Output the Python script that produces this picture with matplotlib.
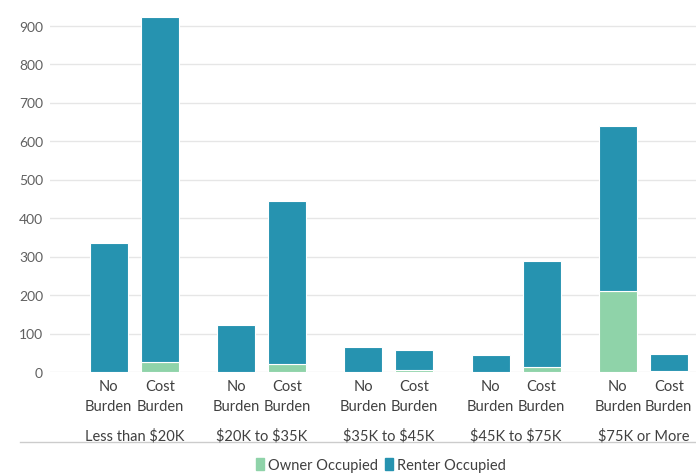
import matplotlib
matplotlib.use("Agg")
import matplotlib.pyplot as plt
from matplotlib.patches import Rectangle
import numpy as np

plt.rcParams['font.family'] = ['Lato', 'DejaVu Sans']
plt.rcParams['text.parse_math'] = False

categories = ["Less than $20K", "$20K to $35K", "$35K to $45K", "$45K to $75K", "$75K or More"]
sub_labels = ["No\nBurden", "Cost\nBurden"]
owner_no = [0, 0, 0, 0, 210]
renter_no = [335, 122, 65, 44, 429]
owner_cost = [26, 20, 5, 13, 3]
renter_cost = [896, 424, 52, 275, 44]
yticks = [0, 100, 200, 300, 400, 500, 600, 700, 800, 900]
series_names = ["Owner Occupied", "Renter Occupied"]

OWNER = "#8fd3a9"
RENTER = "#2693b0"
TXT = "#404040"
FS = 10.5

W, H = 696, 477
fig = plt.figure(figsize=(W / 100, H / 100), dpi=100)

# pixel geometry
left_px, right_px = 50, 696
zero_px = 373
px_per_unit = 0.385
top_val = 1000
top_px = zero_px - top_val * px_per_unit
group_px = 127.25
g0_px = 134.25

ax = fig.add_axes([left_px / W, 1 - zero_px / H, (right_px - left_px) / W, (zero_px - top_px) / H])
x0 = (left_px - g0_px) / group_px
x1 = (right_px - g0_px) / group_px
ax.set_xlim(x0, x1)
ax.set_ylim(0, top_val)

x = np.arange(len(categories))
off = 25.5 / group_px
bw = 38 / group_px

kw = dict(width=bw, edgecolor="white", linewidth=0.8, zorder=3)
ax.bar(x - off, owner_no, color=OWNER, **kw)
ax.bar(x - off, renter_no, bottom=owner_no, color=RENTER, **kw)
ax.bar(x + off, owner_cost, color=OWNER, **kw)
ax.bar(x + off, renter_cost, bottom=owner_cost, color=RENTER, **kw)

ax.set_yticks(yticks)
ax.set_yticklabels([str(v) for v in yticks], color="#606060", fontsize=10)
ax.tick_params(axis="y", length=0, pad=5)
ax.set_xticks([])
ax.grid(axis="y", color="#e6e6e6", linewidth=1, zorder=0)
for s in ax.spines.values():
    s.set_visible(False)

def fy(py):
    return 1 - py / H

def fx(dx):
    return (g0_px + dx * group_px) / W

for i, cat in enumerate(categories):
    for j, sl in enumerate(sub_labels):
        xi = i + (-off if j == 0 else off)
        fig.text(fx(xi), fy(397), sl, ha="center", va="center", fontsize=FS,
                 color=TXT, linespacing=1.55)
    fig.text(fx(i), fy(436), cat, ha="center", va="center", fontsize=FS, color=TXT)

fig.add_artist(plt.Line2D([20 / W, 1], [fy(443), fy(443)], color="#cccccc", linewidth=1))

handles = [Rectangle((0, 0), 1, 1, color=OWNER), Rectangle((0, 0), 1, 1, color=RENTER)]
fig.legend(handles, series_names, loc="center", bbox_to_anchor=(381 / W, fy(466)), ncol=2,
           frameon=False, fontsize=FS, handlelength=0.55, handleheight=0.8,
           handletextpad=0.25, columnspacing=0.5, labelcolor=TXT)

fig.savefig("out.png", dpi=100)
